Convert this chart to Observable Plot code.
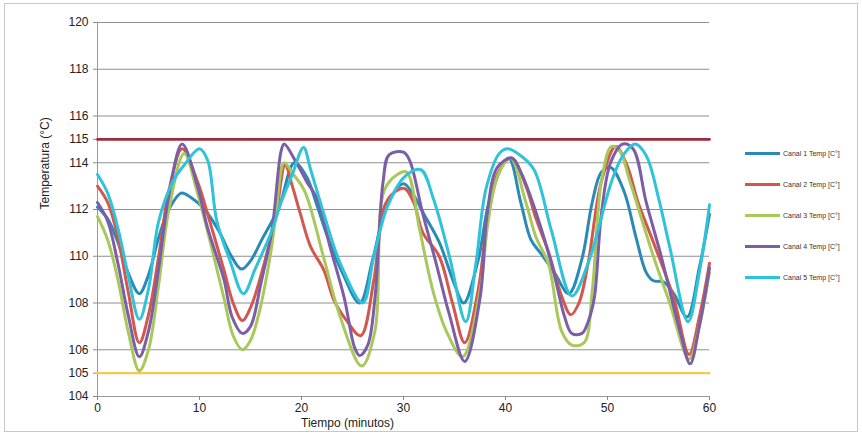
<!DOCTYPE html>
<html><head><meta charset="utf-8">
<script src="https://cdn.jsdelivr.net/npm/d3@7"></script>
<script src="https://cdn.jsdelivr.net/npm/@observablehq/plot@0.6"></script>
<style>
body{margin:0;background:#fff;font-family:"Liberation Sans",Arial,sans-serif;}
#wrap{position:relative;width:862px;height:434px;overflow:hidden}
#frame{position:absolute;left:4px;top:3px;width:852px;height:427px;border:1px solid #c8c8c8;pointer-events:none}
.item{position:absolute;display:flex;align-items:center;white-space:nowrap;font-size:7px;color:#333}
.item span.sw{display:inline-block;width:35px;height:3px;margin-right:3px}
</style></head><body>
<div id="wrap"><div id="chart"></div><div id="frame"></div><div id="legend"></div></div>
<script>
// ---- data ----
const seriesNames = ["Canal 1 Temp [C°]","Canal 2 Temp [C°]","Canal 3 Temp [C°]","Canal 4 Temp [C°]","Canal 5 Temp [C°]"];
const seriesColors = ["#2a8ab5","#d4574e","#a8c85c","#7b5ea6","#2ec3d8"];

const canal1Time = [0,1,2,3,4.1,5,6,7,8.2,9.2,10.5,12,13,14.1,15,16.1,17.8,19.3,20.5,21.5,22.5,24,25.7,27,28.4,30,31,32,33.5,35,35.9,37.3,38.5,40.3,41.5,42.5,43.5,44.8,46.2,47.5,48.5,49.4,50.3,51.6,52.8,53.8,54.5,55.5,56.5,57.8,59,60];
const canal1Temp = [112.1,111.6,110.6,109.3,108.4,109.2,110.8,112.0,112.7,112.5,112.0,111.0,110.1,109.45,109.8,110.7,112.1,114.0,113.4,112.2,110.9,109.3,108.0,109.9,112.2,113.1,112.6,111.8,110.6,108.8,108.0,109.8,112.5,114.2,112.3,110.7,110.1,109.3,108.4,109.9,112.3,113.6,113.8,112.8,110.8,109.3,108.95,108.9,108.4,107.4,109.5,111.8];

const canal2Time = [0,1,2,3,4.1,5,6,7,8.3,9.8,11,12.4,13.3,14.2,15,16.1,17.5,18.4,19.1,19.9,20.9,22.2,23.2,24.5,25.8,27.1,28.1,29,30.1,31,31.9,33.5,34.8,36,37.3,38.3,39.3,40.6,42,43,44.2,45.5,46.4,47.2,48.1,49.4,50.8,51.9,53,54.5,56.5,58,59,60];
const canal2Temp = [113.0,112.3,110.8,108.5,106.3,107.5,110.0,112.8,114.6,113.2,111.5,109.4,108.0,107.25,107.8,109.3,111.8,113.9,113.0,111.8,110.4,109.4,108.1,107.2,106.6,109.0,112.1,112.7,112.9,112.3,111.0,110.0,108.0,106.3,108.5,111.8,113.6,114.2,113.0,111.6,110.2,108.3,107.5,108.0,109.7,113.2,114.7,113.9,112.3,110.6,108.2,105.8,107.4,109.7];

const canal3Time = [0,1,2,3,4.1,5,6,7,8.5,9.8,11,12.4,13.3,14.2,15,15.8,17,17.5,18.3,19.2,20.3,22.2,23.8,25.9,27.2,28.1,29.4,30.3,31.6,32.9,34.2,35.8,37.5,38.3,39.3,40.5,42,43,44.2,45.5,46.5,47.7,48.5,49.4,50.4,51.2,52.2,54.5,56.1,58,59,60];
const canal3Temp = [111.7,110.7,109.0,106.8,105.1,106.0,108.8,112.0,114.4,112.7,110.7,108.2,106.6,106.0,106.4,107.5,110.2,111.8,114.0,113.5,112.8,109.9,107.4,105.3,106.8,112.8,113.5,113.6,111.1,108.5,106.8,105.7,108.5,111.5,113.5,114.2,112.3,110.8,109.7,106.8,106.2,106.3,108.5,113.2,114.7,114.5,113.2,110.0,108.0,105.6,107.0,109.3];

const canal4Time = [0,1,2,3,4.1,5,6,7,8.3,9.8,10.8,12.4,13.2,14.2,15,16,17.1,18,18.3,19.5,20.5,21.6,22.8,24.2,25.2,25.7,26.5,27.2,28,28.6,30,30.6,31.9,33.2,34.5,36,37.5,38.2,39.2,40.6,41.5,42.5,44.5,45.8,46.5,47.5,48.1,48.7,49.4,50.3,51.5,52.5,53.8,55.2,57.1,58.1,59,60];
const canal4Temp = [112.3,111.5,109.7,107.5,105.7,106.8,109.5,112.6,114.8,113.0,111.2,109.0,107.4,106.7,107.0,108.8,111.1,114.5,114.8,114.0,113.2,112.4,110.4,108.2,106.1,105.75,106.2,108.2,113.2,114.35,114.45,114.1,111.8,109.7,107.5,105.5,108.2,111.8,113.8,114.2,113.6,112.5,109.7,107.4,106.7,106.7,107.2,108.2,111.8,114.0,114.8,114.6,112.3,110.1,106.8,105.4,107.0,109.5];

const canal5Time = [0,1,2,3,4.1,5,6,7.4,8.5,10,10.8,11.7,13,14.3,15.5,17.1,18,19.1,20.2,20.9,22.2,23.8,26,27.1,28.4,30.1,31.7,32.9,34.5,36.1,37.1,38.1,39.4,40.2,41.5,42.8,44.5,46.5,48.1,50.4,51.5,52.7,53.8,55,56.1,57.9,59,60];
const canal5Temp = [113.5,112.7,111.2,109.2,107.3,108.6,111.5,113.2,113.9,114.6,114.1,111.5,109.8,108.4,109.5,111.1,112.3,113.5,114.65,113.7,111.8,109.7,108.0,110.0,112.1,113.4,113.7,112.5,110.0,107.2,109.7,112.9,114.4,114.6,114.3,113.7,111.1,108.3,109.7,113.2,114.3,114.8,114.3,112.5,110.4,107.2,109.3,112.2];

const limitTime = [0, 60];
const upperLimit = [115, 115];
const lowerLimit = [105, 105];

const xTicks = [0,10,20,30,40,50,60];
const yTicks = [104,105,106,108,110,112,114,115,116,118,120];
const yGrid = [106,108,110,112,114,116,118,120];

// ---- build ----
const times = [canal1Time,canal2Time,canal3Time,canal4Time,canal5Time];
const temps = [canal1Temp,canal2Temp,canal3Temp,canal4Temp,canal5Temp];
const data = seriesNames.flatMap((name,k) => times[k].map((t,i) => ({serie:name, t, v:temps[k][i]})));
const upper = limitTime.map((t,i)=>({t, v:upperLimit[i]}));
const lower = limitTime.map((t,i)=>({t, v:lowerLimit[i]}));

const chart = Plot.plot({
  width: 862, height: 434,
  marginLeft: 97, marginRight: 153, marginTop: 22, marginBottom: 38,
  style: {fontFamily: "'Liberation Sans', Arial, sans-serif", fontSize: "12px", color: "#222", background: "transparent"},
  x: {domain: [0, 60]},
  y: {domain: [104, 120]},
  color: {domain: seriesNames, range: seriesColors},
  marks: [
    Plot.gridY(yGrid, {stroke: "#8f8f8f", strokeOpacity: 1, strokeWidth: 1}),
    Plot.ruleY([104], {stroke: "#999"}),
    Plot.ruleX([0], {stroke: "#999"}),
    Plot.axisY(yTicks, {tickSize: 4, tickPadding: 5, label: null, stroke: "#888"}),
    Plot.axisX(xTicks, {tickSize: 4, tickPadding: 3, label: null, stroke: "#888"}),
    Plot.text(["Temperatura (°C)"], {frameAnchor: "left", rotate: -90, dx: -52, fontSize: 12}),
    Plot.text(["Tiempo (minutos)"], {frameAnchor: "bottom", dx: -56, dy: 30, fontSize: 12}),
    Plot.line(lower, {x: "t", y: "v", stroke: "#f3c94f", strokeWidth: 2.2}),
    Plot.line(data, {x: "t", y: "v", z: "serie", stroke: "serie", strokeWidth: 3, curve: "catmull-rom"}),
    Plot.line(upper, {x: "t", y: "v", stroke: "#9e2b3c", strokeWidth: 2.6})
  ]
});
document.getElementById("chart").appendChild(chart);

// legend
const legend = document.getElementById("legend");
seriesNames.forEach((name, i) => {
  const d = document.createElement("div");
  d.className = "item";
  d.style.left = "745px";
  d.style.top = (150 + i * 31) + "px";
  d.innerHTML = `<span class="sw" style="background:${seriesColors[i]}"></span>${name}`;
  legend.appendChild(d);
});
</script>
</body></html>
